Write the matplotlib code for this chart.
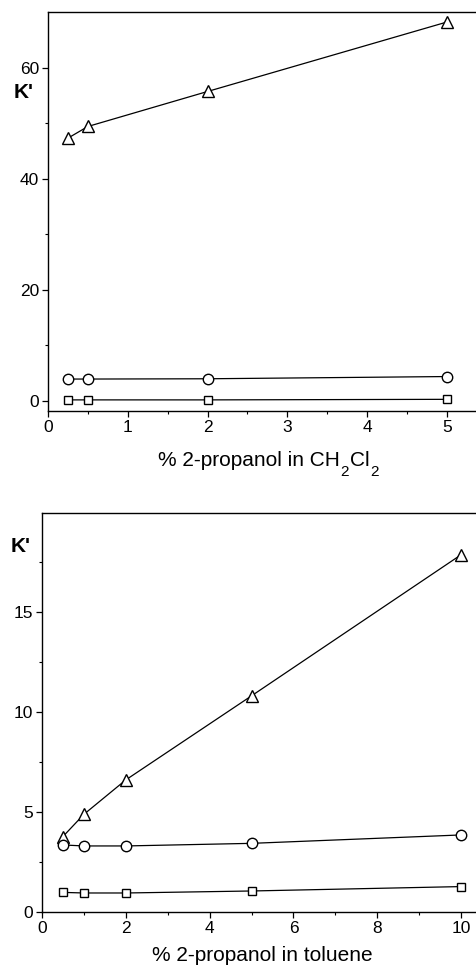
import matplotlib
matplotlib.use("Agg")
import matplotlib.pyplot as plt
from matplotlib.ticker import MultipleLocator, FixedLocator

plt.rcParams['font.family'] = ['Liberation Sans', 'DejaVu Sans']

# Top panel: % 2-propanol in CH2Cl2
x_top = [0.25, 0.5, 2, 5]
tri_top = [47.3, 49.4, 55.7, 68.2]
circ_top = [3.95, 3.95, 4.0, 4.4]
sq_top = [0.2, 0.2, 0.2, 0.3]

# Bottom panel: % 2-propanol in toluene
x_bot = [0.5, 1, 2, 5, 10]
tri_bot = [3.77, 4.88, 6.6, 10.8, 17.85]
circ_bot = [3.35, 3.3, 3.3, 3.43, 3.85]
sq_bot = [0.98, 0.95, 0.95, 1.05, 1.27]

fig = plt.figure(figsize=(4.77, 9.71), dpi=100)

ax1 = fig.add_axes([48/477, 1-411/971, 1-48/477, (411-12)/971])
ax2 = fig.add_axes([42/477, 1-912/971, 1-42/477, (912-512.7)/971])

mk = dict(color='black', lw=0.9, mfc='white', mec='black', mew=1.0)
for ax, x, tri, circ, sq in [(ax1, x_top, tri_top, circ_top, sq_top),
                             (ax2, x_bot, tri_bot, circ_bot, sq_bot)]:
    ax.plot(x, tri, marker='^', ms=9, **mk)
    ax.plot(x, circ, marker='o', ms=7.5, **mk)
    ax.plot(x, sq, marker='s', ms=6.3, **mk)
    ax.spines['right'].set_visible(False)
    for s in ['left', 'bottom', 'top']:
        ax.spines[s].set_linewidth(1.0)
    ax.tick_params(which='major', direction='out', length=4, width=0.9,
                   labelsize=12.5, pad=2.5, top=False, right=False)
    ax.tick_params(which='minor', direction='out', length=2.5, width=0.8,
                   top=False, right=False)

ax1.set_xlim(0, 5.376)
ax1.set_ylim(-1.8, 70)
ax1.xaxis.set_major_locator(MultipleLocator(1))
ax1.xaxis.set_minor_locator(MultipleLocator(0.5))
ax1.yaxis.set_major_locator(FixedLocator([0, 20, 40, 60]))
ax1.yaxis.set_minor_locator(FixedLocator([10, 30, 50]))

ax2.set_xlim(0, 10.38)
ax2.set_ylim(0, 19.95)
ax2.xaxis.set_major_locator(MultipleLocator(2))
ax2.xaxis.set_minor_locator(MultipleLocator(1))
ax2.yaxis.set_major_locator(FixedLocator([0, 5, 10, 15]))
ax2.yaxis.set_minor_locator(FixedLocator([2.5, 7.5, 12.5, 17.5]))

fig.text(24/477, 1-93/971, "K'", fontsize=15, fontweight='bold', ha='center', va='center')
fig.text(21/477, 1-547/971, "K'", fontsize=15, fontweight='bold', ha='center', va='center')

# Top x label with deep subscripts: "% 2-propanol in CH2Cl2"
t1 = fig.text(158/477, 1-466/971, "% 2-propanol in CH", fontsize=15,
              ha='left', va='baseline')
s1 = fig.text(0, 0, "2", fontsize=11, transform=None)
s1.remove()
s1 = plt.annotate("2", xy=(1, 0), xycoords=t1, xytext=(0.6, -6.5),
                  textcoords='offset points', fontsize=11, ha='left', va='bottom',
                  annotation_clip=False)
t2 = plt.annotate("Cl", xy=(1, 0), xycoords=(s1, t1), xytext=(0.4, 0),
                  textcoords='offset points', fontsize=15, ha='left', va='bottom',
                  annotation_clip=False)
s2 = plt.annotate("2", xy=(1, 0), xycoords=t2, xytext=(0.6, -6.5),
                  textcoords='offset points', fontsize=11, ha='left', va='bottom',
                  annotation_clip=False)

fig.text(262/477, 1-961/971, "% 2-propanol in toluene", fontsize=15,
         ha='center', va='baseline')

fig.savefig("out.png", dpi=100)
